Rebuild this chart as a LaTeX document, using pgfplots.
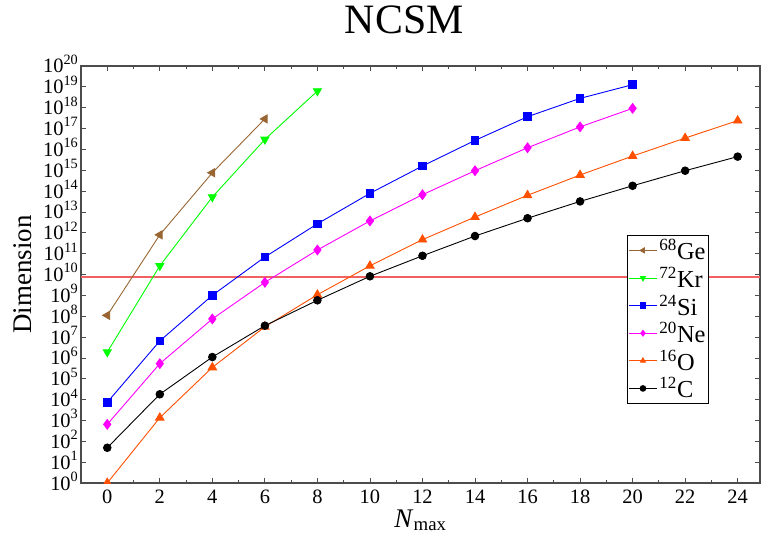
\documentclass[border=0pt]{standalone}
\usepackage{pgfplots}
\pgfplotsset{compat=1.18}
\usepackage{fontspec}
\setmainfont{Liberation Serif}

\definecolor{geBrown}{rgb}{0.6,0.4,0.2}
\definecolor{krGreen}{rgb}{0,1,0}
\definecolor{siBlue}{rgb}{0,0,1}
\definecolor{neMagenta}{rgb}{1,0,1}
\definecolor{oOrange}{RGB}{255,80,0}
\definecolor{limitRed}{rgb}{0.95,0.38,0.38}
\definecolor{frameGray}{gray}{0.3}

% power-of-ten tick label
\newcommand{\tenpow}[1]{10\raisebox{0.42em}{\fontsize{14.3}{14.3}\selectfont #1}}

\begin{document}
\begin{tikzpicture}
% fixed page frame around the plot box
\path[use as bounding box] (-81bp,-51bp) rectangle (680bp,483bp);
\begin{axis}[
  at={(0,0)}, anchor=south west,
  scale only axis,
  width=679bp, height=417bp,
  ymode=log, log basis y=10,
  xmin=-1, xmax=24.85,
  ymin=1, ymax=1e20,
  xtick={0,2,...,24},
  minor x tick num=1,
  ytick={1,1e1,1e2,1e3,1e4,1e5,1e6,1e7,1e8,1e9,1e10,1e11,1e12,1e13,1e14,1e15,1e16,1e17,1e18,1e19,1e20},
  yticklabels={\tenpow{0},\tenpow{1},\tenpow{2},\tenpow{3},\tenpow{4},\tenpow{5},\tenpow{6},\tenpow{7},\tenpow{8},\tenpow{9},\tenpow{10},\tenpow{11},\tenpow{12},\tenpow{13},\tenpow{14},\tenpow{15},\tenpow{16},\tenpow{17},\tenpow{18},\tenpow{19},\tenpow{20}},
  /pgf/number format/assume math mode=true,
  tick align=inside,
  tick pos=both,
  major tick length=5.5bp,
  minor tick length=3bp,
  every tick/.style={frameGray, line width=0.8bp},
  axis line style={frameGray, line width=1.2bp},
  ticklabel style={font=\fontsize{20.5}{22}\selectfont},
  yticklabel style={anchor=base east, inner sep=0pt, xshift=-3bp, yshift=-7bp},
  xticklabel style={anchor=north, inner sep=0pt, yshift=-7bp},
  ylabel={Dimension},
  ylabel style={at={(axis description cs:0,0.5)}, anchor=center, yshift=58bp, font=\fontsize{27}{30}\selectfont},
  xlabel={\textit{N}\textsubscript{max}},
  xlabel style={at={(axis description cs:0.5,0)}, anchor=base, yshift=-44bp, font=\fontsize{27}{30}\selectfont},
  title={NCSM},
  title style={at={(axis description cs:0.476,1)}, anchor=base, yshift=27bp, font=\fontsize{42}{44}\selectfont},
  clip marker paths=true,
  legend style={at={(0.925,0.595)}, anchor=north east, draw=black, line width=1.2bp,
    fill=white, font=\fontsize{24.5}{26}\selectfont, inner xsep=1bp, inner ysep=2bp,
    row sep=1.8bp, cells={anchor=west},
    /tikz/every odd column/.style={inner xsep=0pt}},
  legend image code/.code={
    \draw[mark repeat=2, mark phase=2, line width=1bp, mark size=2.8bp]
      plot coordinates {(0bp,0bp) (14bp,0bp) (28bp,0bp)};},
  every axis plot/.append style={line width=0.9bp},
]
% reference level near 10^10
\addplot[limitRed, line width=1.5bp, mark=none, forget plot]
  coordinates {(-1,7.4e9) (4,7.4e9) (10,7.4e9) (24.85,7.4e9)};

\addplot[geBrown, mark=triangle*, mark size=4.6bp, mark options={rotate=90}]
  coordinates {(0,1.1e8) (2,8e11) (4,7.6e14) (6,2.9e17)};
\addlegendentry{\textsuperscript{68}Ge}

\addplot[krGreen, mark=triangle*, mark size=4.6bp, mark options={rotate=180}]
  coordinates {(0,1.9e6) (2,2.6e10) (4,5.2e13) (6,3.0e16) (8,6.3e18)};
\addlegendentry{\textsuperscript{72}Kr}

\addplot[siBlue, mark=square*, mark size=3.8bp]
  coordinates {(0,7.4e3) (2,6.5e6) (4,1.0e9) (6,6.9e10) (8,2.7e12) (10,7.8e13)
               (12,1.6e15) (14,2.7e16) (16,3.7e17) (18,2.8e18) (20,1.27e19)};
\addlegendentry{\textsuperscript{24}Si}

\addplot[neMagenta, mark=diamond*, mark size=4.8bp]
  coordinates {(0,650) (2,5.3e5) (4,7.4e7) (6,4.2e9) (8,1.5e11) (10,3.7e12)
               (12,6.7e13) (14,9.5e14) (16,1.2e16) (18,1.2e17) (20,9.3e17)};
\addlegendentry{\textsuperscript{20}Ne}

\addplot[oOrange, mark=triangle*, mark size=4.8bp]
  coordinates {(0,1) (2,1.35e3) (4,3.5e5) (6,3.1e7) (8,1.07e9) (10,2.6e10)
               (12,4.7e11) (14,5.7e12) (16,6.3e13) (18,5.9e14) (20,4.8e15)
               (22,3.5e16) (24,2.4e17)};
\addlegendentry{\textsuperscript{16}O}

\addplot[black, mark=*, mark size=3.8bp]
  coordinates {(0,49) (2,1.8e4) (4,1.1e6) (6,3.5e7) (8,5.8e8) (10,8.2e9)
               (12,7.9e10) (14,7e11) (16,5e12) (18,3.2e13) (20,1.8e14)
               (22,9.5e14) (24,4.5e15)};
\addlegendentry{\textsuperscript{12}C}
\end{axis}
\end{tikzpicture}
\end{document}
